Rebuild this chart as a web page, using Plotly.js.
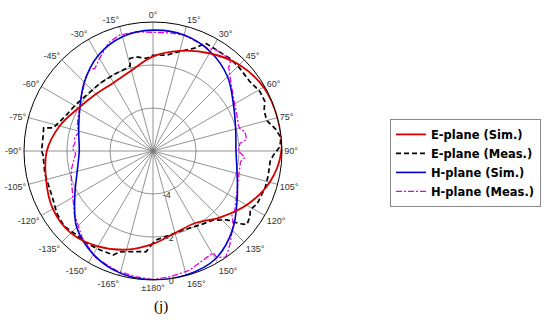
<!DOCTYPE html>
<html><head><meta charset="utf-8">
<script src="https://cdn.plot.ly/plotly-3.0.1.min.js"></script>
<style>html,body{margin:0;padding:0;background:#fff}#chart{width:550px;height:324px}</style>
</head><body><div id="chart"></div>
<script>
// E-plane (Sim.)
const eSimTheta = [-180,-165,-150,-135,-120,-105,-90,-75,-60,-45,-30,-15,0,15,30,45,60,75,90,105,120,135,150,165,180];
const eSimR = [-1.68,-1.25,-0.88,-0.60,-0.62,-0.85,-1.06,-1.50,-2.00,-2.25,-2.33,-2.12,-1.60,-1.18,-0.75,-0.33,-0.06,-0.01,-0.03,-0.38,-0.97,-1.62,-2.12,-2.05,-1.68];
// E-plane (Meas.)
const eMeasTheta = [-180,-176,-171,-162,-159,-152,-144,-138,-130,-123,-116,-111,-102,-92,-90,-82,-78,-77,-67,-60,-50,-38,-28,-18,-15,-14,-10,-4,0,8,15,22,26,32,40,46,54,61,66,70,75,80,84,88,92,95,102,108,117,121,124,128,130,133,139,148,159,169,178,180];
const eMeasR = [-1.72,-1.30,-1.26,-1.07,-0.82,-0.78,-0.71,-0.72,-0.59,-0.67,-0.83,-0.88,-0.86,-0.88,-0.82,-0.84,-0.80,-1.24,-1.65,-1.79,-1.96,-2.00,-2.01,-1.96,-1.90,-1.56,-1.55,-1.68,-1.55,-1.50,-1.21,-0.84,-0.42,-0.45,-0.40,-0.42,-0.46,-0.31,-0.31,-0.50,-0.52,-0.20,-0.02,-0.09,-0.40,-0.53,-0.52,-0.51,-0.57,-0.72,-0.56,-0.45,-0.74,-1.30,-1.74,-1.93,-2.07,-2.01,-1.86,-1.72];
// H-plane (Sim.)
const hSimTheta = [-180,-165,-150,-135,-120,-105,-90,-75,-60,-45,-30,-15,0,15,30,45,60,75,90,105,120,135,150,165,180];
const hSimR = [-0.01,-0.12,-0.45,-0.98,-1.80,-2.35,-2.57,-2.42,-2.07,-1.48,-0.88,-0.50,-0.38,-0.42,-0.67,-1.10,-1.68,-2.02,-2.14,-1.95,-1.48,-0.78,-0.20,-0.03,-0.01];
// H-plane (Meas.)
const hMeasTheta = [-180,-172,-163,-152,-141,-129,-110,-103,-97,-92,-88,-84,-80,-76,-72,-67,-60,-52,-48,-43,-38,-35,-30,-22,-16,-8,0,8,15,25,28,32,39,41,42,47,57,67,73,76,78,83,85,90,94,97,109,119,126,129,132,140,143,145.5,149,149.5,155,163,172,180];
const hMeasR = [-0.02,-0.10,-0.18,-0.36,-0.78,-1.30,-1.96,-2.10,-2.28,-2.40,-2.25,-2.35,-2.30,-2.45,-2.30,-2.20,-2.05,-1.78,-1.64,-1.37,-1.22,-1.30,-1.03,-0.54,-0.39,-0.40,-0.48,-0.45,-0.42,-0.54,-0.60,-0.45,-0.45,-0.52,-0.74,-1.08,-1.53,-1.76,-1.85,-1.82,-1.63,-1.61,-1.94,-2.03,-1.71,-1.90,-1.81,-1.57,-1.30,-1.28,-0.98,-0.41,-0.20,-0.02,-0.22,-0.50,-0.42,-0.20,-0.10,-0.02];

const angTickVals = [0,15,30,45,60,75,90,105,120,135,150,165,180,195,210,225,240,255,270,285,300,315,330,345];
const angTickText = ['0°','15°','30°','45°','60°','75°','90°','105°','120°','135°','150°','165°','±180°','-165°','-150°','-135°','-120°','-105°','-90°','-75°','-60°','-45°','-30°','-15°'];
const radTickVals = [-4,-2,0];
const radTickText = ['-4','-2','0'];
const seriesNames = ['E-plane (Sim.)','E-plane (Meas.)','H-plane (Sim.)','H-plane (Meas.)'];

const traces = [
  {type:'scatterpolar', mode:'lines', name:seriesNames[1], legendrank:2, theta:eMeasTheta, r:eMeasR,
   line:{color:'#000000', width:1.7, dash:'5px,3px'}},
  {type:'scatterpolar', mode:'lines', name:seriesNames[3], legendrank:4, theta:hMeasTheta, r:hMeasR,
   line:{color:'#e000e0', width:1.3, dash:'6px,2px,2px,2px'}},
  {type:'scatterpolar', mode:'lines', name:seriesNames[2], legendrank:3, theta:hSimTheta, r:hSimR,
   line:{color:'#0000cc', width:1.6, shape:'spline'}},
  {type:'scatterpolar', mode:'lines', name:seriesNames[0], legendrank:1, theta:eSimTheta, r:eSimR,
   line:{color:'#d40000', width:1.8, shape:'spline'}}
];

const layout = {
  width:550, height:324,
  margin:{l:0,r:0,t:0,b:0},
  paper_bgcolor:'#ffffff',
  font:{family:'Liberation Sans, Arial, sans-serif', color:'#222'},
  showlegend:true,
  legend:{x:0.709, xanchor:'left', y:0.633, yanchor:'top', bgcolor:'#ffffff',
    bordercolor:'#888888', borderwidth:1, tracegroupgap:0,
    font:{family:'DejaVu Sans, sans-serif', size:11.5, color:'#000', weight:'bold'}},
  polar:{
    domain:{x:[0.04364,0.51273], y:[0.1358,0.9321]},
    bgcolor:'#ffffff',
    angularaxis:{rotation:90, direction:'clockwise', tickmode:'array', tickvals:angTickVals, ticktext:angTickText,
      showline:true, linecolor:'#000', linewidth:1, gridcolor:'#777', gridwidth:0.8, ticks:'',
      tickfont:{size:9, color:'#333'}},
    radialaxis:{range:[-6,0], tickmode:'array', tickvals:radTickVals, ticktext:radTickText, angle:-86,
      tickangle:-86, side:'counterclockwise', showline:false, gridcolor:'#777', gridwidth:0.8, ticks:'',
      tickfont:{size:9, color:'#333'}}
  },
  annotations:[{text:'(j)', x:0.2764, y:0.0525, xref:'paper', yref:'paper', yanchor:'middle', showarrow:false,
    font:{family:'Liberation Serif, Times New Roman, serif', size:15, color:'#000'}}]
};
Plotly.newPlot('chart', traces, layout, {displayModeBar:false, staticPlot:true});
</script></body></html>
